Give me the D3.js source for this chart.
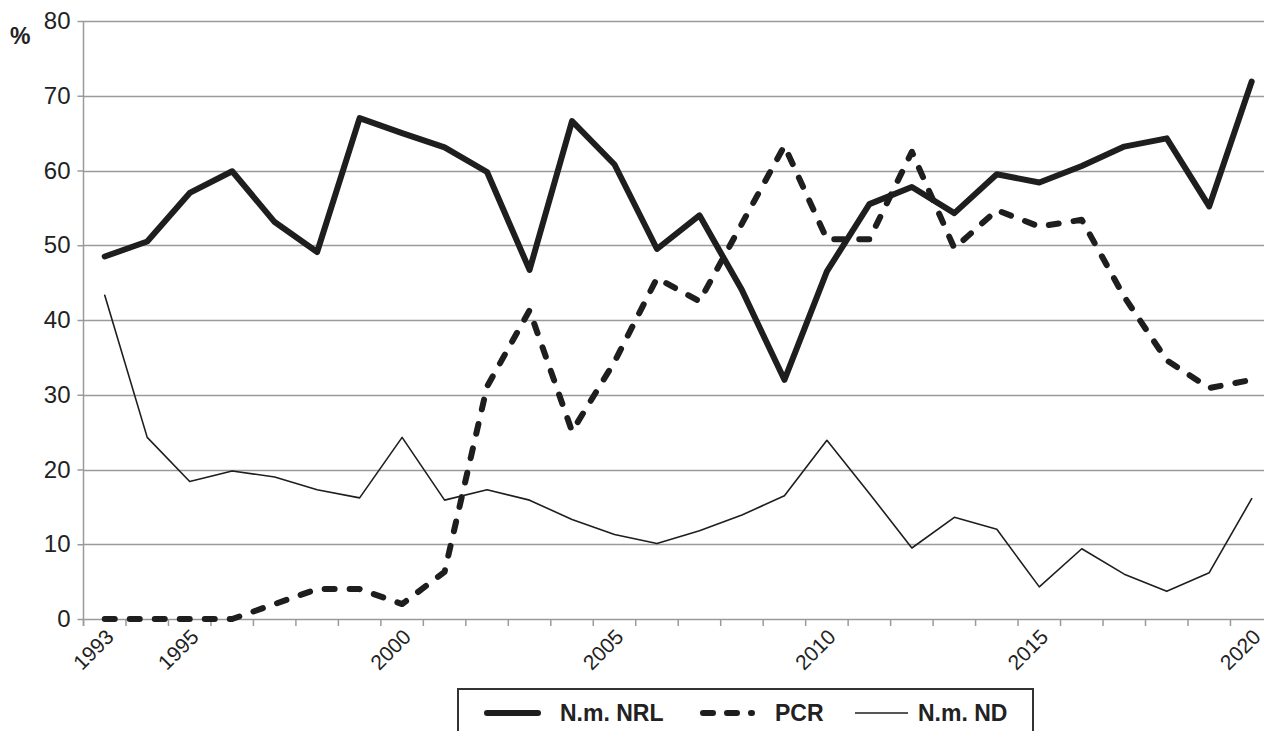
<!DOCTYPE html>
<html>
<head>
<meta charset="utf-8">
<script src="https://cdn.jsdelivr.net/npm/d3@7"></script>
<style>
  html, body { margin: 0; padding: 0; background: #fff; }
  svg { display: block; }
  text { font-family: "Liberation Sans", Arial, sans-serif; fill: #222; }
</style>
</head>
<body>
<svg id="chart" width="1264" height="731"></svg>
<script>
const years = d3.range(1993, 2021).map(String);
const tickLabels = ["1993", "1995", "2000", "2005", "2010", "2015", "2020"];
const yTicks = [0, 10, 20, 30, 40, 50, 60, 70, 80];

const nrl = [48.5, 50.5, 57.0, 59.9, 53.1, 49.1, 67.0, 65.0, 63.1, 59.8,
             46.7, 66.6, 60.8, 49.5, 54.0, 44.0, 32.0, 46.5, 55.5, 57.8,
             54.3, 59.5, 58.4, 60.6, 63.2, 64.3, 55.2, 71.9];
const pcr = [0, 0, 0, 0, 2.0, 4.0, 4.0, 2.0, 6.3, 31.1,
             41.3, 25.1, 34.4, 45.6, 42.5, 52.9, 63.3, 50.8, 50.8, 62.5,
             49.6, 54.7, 52.5, 53.4, 43.1, 34.6, 30.9, 32.0];
const nd  = [43.3, 24.3, 18.4, 19.8, 19.0, 17.3, 16.2, 24.3, 15.9, 17.3,
             15.9, 13.3, 11.3, 10.1, 11.8, 13.9, 16.5, 23.9, 16.8, 9.5,
             13.6, 12.0, 4.3, 9.4, 6.0, 3.7, 6.2, 16.1];

const seriesNames = ["N.m. NRL", "PCR", "N.m. ND"];

(function () {
const svg = d3.select("#chart");
const W = 1264;
const mLeft = 83.5, mTop = 21, mBottom = 619;
const band = 42.48;

const x = d3.scaleBand().domain(years).range([mLeft, mLeft + band * years.length]).padding(0);
const y = d3.scaleLinear().domain([0, 80]).range([mBottom, mTop]);
const cx = d => x(d) + x.bandwidth() / 2;

// grid
svg.append("g").selectAll("line").data(yTicks).join("line")
  .attr("x1", mLeft).attr("x2", W)
  .attr("y1", d => Math.round(y(d)) + 0.5).attr("y2", d => Math.round(y(d)) + 0.5)
  .attr("stroke", "#9a9a9a").attr("stroke-width", 1.5);

// y axis
const yAxis = d3.axisLeft(y).tickValues(yTicks).tickSize(6).tickPadding(7);
const gy = svg.append("g").attr("transform", `translate(${mLeft},0)`).call(yAxis);
gy.select(".domain").attr("stroke", "#9a9a9a").attr("stroke-width", 1.5)
  .attr("d", `M0,${mTop}V${mBottom + 7}`);
gy.selectAll(".tick line").attr("stroke", "#9a9a9a").attr("stroke-width", 1.5);
gy.selectAll(".tick text").attr("font-size", 24).attr("fill", "#222")
  .attr("font-family", "Liberation Sans, Arial, sans-serif");

// x axis ticks at band boundaries
const bounds = years.map(d => x(d)).concat([x(years[years.length - 1]) + x.bandwidth()]);
svg.append("g").selectAll("line").data(bounds.filter(b => b <= W)).join("line")
  .attr("x1", d => d).attr("x2", d => d)
  .attr("y1", mBottom).attr("y2", mBottom + 7)
  .attr("stroke", "#9a9a9a").attr("stroke-width", 1.5);

// x labels
svg.append("g").selectAll("text").data(tickLabels).join("text")
  .attr("transform", d => `translate(${cx(d) + 5},${mBottom + 14}) rotate(-45)`)
  .attr("text-anchor", "end")
  .attr("dy", "0.35em")
  .attr("font-size", 21)
  .text(d => d);

// % label
svg.append("text").attr("x", 10).attr("y", 44).attr("font-size", 23)
  .attr("font-weight", "bold").text("%");

// lines
const line = d3.line().x((d, i) => cx(years[i])).y(d => y(d));
const styles = [
  { data: nrl, width: 6, dash: null },
  { data: pcr, width: 6, dash: "10,15" },
  { data: nd, width: 1.6, dash: null }
];
styles.forEach(s => {
  svg.append("path").datum(s.data)
    .attr("d", line)
    .attr("fill", "none")
    .attr("stroke", "#1e1e1e")
    .attr("stroke-width", s.width)
    .attr("stroke-linejoin", "round")
    .attr("stroke-linecap", "round")
    .attr("stroke-dasharray", s.dash);
});

// legend
const lg = svg.append("g");
lg.append("rect").attr("x", 458).attr("y", 689).attr("width", 575).attr("height", 60)
  .attr("fill", "#fff").attr("stroke", "#333").attr("stroke-width", 2);
const legendItems = [
  { name: seriesNames[0], x1: 487, x2: 538, tx: 560, width: 6, dash: null },
  { name: seriesNames[1], x1: 703, x2: 752, tx: 775, width: 6, dash: "10,14" },
  { name: seriesNames[2], x1: 855, x2: 908, tx: 918, width: 1.6, dash: null }
];
legendItems.forEach(it => {
  lg.append("line").attr("x1", it.x1).attr("x2", it.x2).attr("y1", 713).attr("y2", 713)
    .attr("stroke", "#1e1e1e").attr("stroke-width", it.width)
    .attr("stroke-linecap", it.width > 2 ? "round" : "butt")
    .attr("stroke-dasharray", it.dash);
  lg.append("text").attr("x", it.tx).attr("y", 721).attr("font-size", 23)
    .attr("font-weight", "bold").text(it.name);
});
})();
</script>
</body>
</html>
